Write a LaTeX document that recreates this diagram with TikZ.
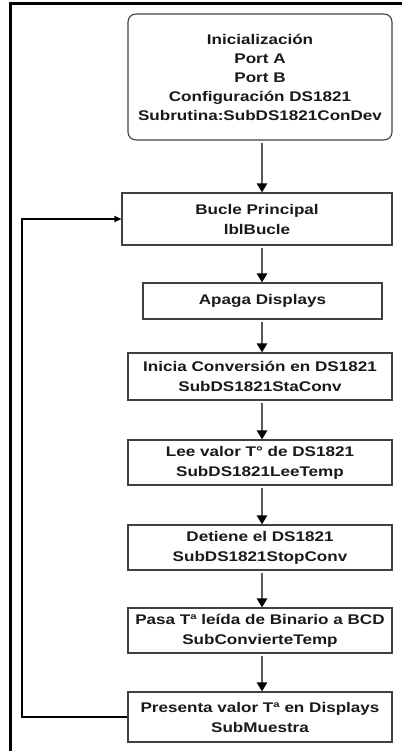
\documentclass[tikz,border=0pt]{standalone}
\usepackage{fontspec}
\setmainfont{Liberation Sans}[FakeStretch=1.22]
\usetikzlibrary{arrows.meta, positioning}

\tikzstyle{startbox} = [rectangle, rounded corners=8pt, draw=black!75, line width=1.1pt, align=center, inner sep=0pt]
\tikzstyle{procbox} = [rectangle, draw=black!75, line width=1.1pt, align=center, inner sep=0pt]
\tikzstyle{flow} = [line width=2.6pt, black!65, -{Triangle[black, length=9pt, width=10pt]}, shorten <=2pt]
\tikzstyle{loopline} = [line width=1.3pt, black, -{Triangle[length=7pt, width=6pt]}]
\tikzstyle{frame} = [line width=3pt, black]

\begin{document}
\begin{tikzpicture}[x=1pt, y=-1pt, font=\bfseries\fontsize{14}{20}\selectfont, text=black!90]

    \useasboundingbox (0,0) rectangle (402,751);

    % page border
    \draw [frame] (402,4) -| (10,751);

    \node (init) [startbox, minimum width=264pt, minimum height=126pt, font=\bfseries\fontsize{14}{19}\selectfont] at (260,77)
        {Inicialización\\Port A\\Port B\\Configuración DS1821\\Subrutina:SubDS1821ConDev};
    \node (bucle) [procbox, minimum width=270pt, minimum height=52pt] at (257,219)
        {Bucle Principal\\lblBucle};
    \node (apaga) [procbox, minimum width=239pt, minimum height=36pt] at (262.5,301)
        {Apaga Displays};
    \node (iniconv) [procbox, minimum width=264pt, minimum height=47pt] at (260,376.5)
        {Inicia Conversión en DS1821\\SubDS1821StaConv};
    \node (leetemp) [procbox, minimum width=264pt, minimum height=45pt] at (260,462.5)
        {Lee valor T° de DS1821\\SubDS1821LeeTemp};
    \node (detiene) [procbox, minimum width=264pt, minimum height=45pt] at (260,547.5)
        {Detiene el DS1821\\SubDS1821StopConv};
    \node (convtemp) [procbox, minimum width=264pt, minimum height=45pt] at (260,630.5)
        {Pasa Tª leída de Binario a BCD\\SubConvierteTemp};
    \node (muestra) [procbox, minimum width=264pt, minimum height=50pt] at (260,717)
        {Presenta valor Tª en Displays\\SubMuestra};

    \draw [flow] (init.south -| 262,0) -- (bucle.north -| 262,0);
    \draw [flow] (bucle.south -| 262,0) -- (apaga.north -| 262,0);
    \draw [flow] (apaga.south -| 262,0) -- (iniconv.north -| 262,0);
    \draw [flow] (iniconv.south -| 262,0) -- (leetemp.north -| 262,0);
    \draw [flow] (leetemp.south -| 262,0) -- (detiene.north -| 262,0);
    \draw [flow] (detiene.south -| 262,0) -- (convtemp.north -| 262,0);
    \draw [flow] (convtemp.south -| 262,0) -- (muestra.north -| 262,0);

    % back to the main loop
    \draw [loopline] (muestra.west) -| (22,219) -- (bucle.west);

\end{tikzpicture}
\end{document}
